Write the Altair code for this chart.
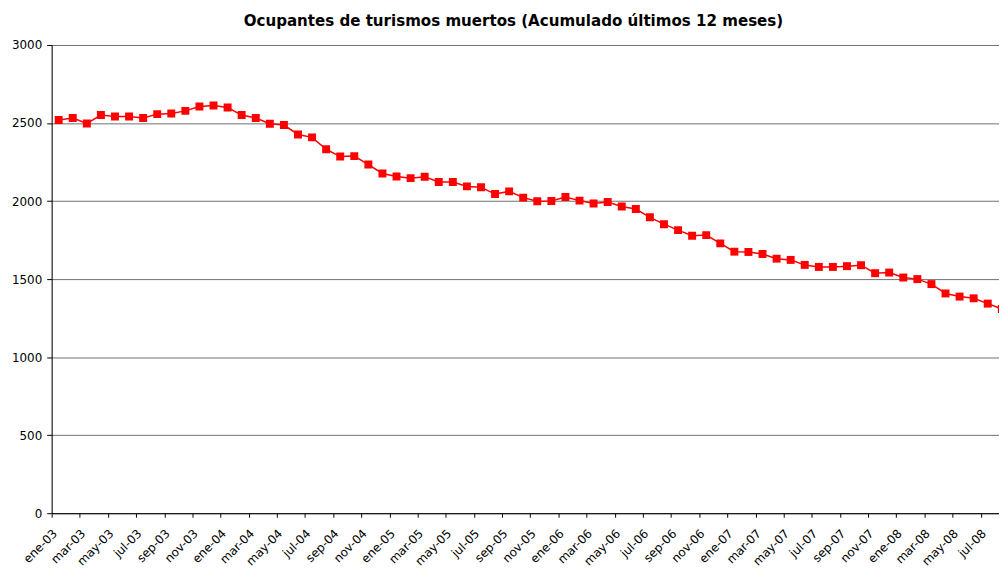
import json
import altair as alt
import pandas as pd

months = ["ene", "feb", "mar", "abr", "may", "jun", "jul", "ago", "sep", "oct", "nov", "dic"]
categories = [f"{m}-{y:02d}" for y in range(3, 9) for m in months][:68]

values = [
    2519, 2532, 2497, 2551, 2542, 2542, 2532, 2557, 2561, 2578, 2606, 2612,
    2599, 2551, 2532, 2496, 2487, 2427, 2408, 2332, 2285, 2288, 2234, 2177,
    2158, 2147, 2156, 2122, 2122, 2094, 2088, 2045, 2062, 2022, 1999, 2001,
    2026, 2003, 1984, 1994, 1965, 1949, 1896, 1852, 1814, 1778, 1782, 1729,
    1676, 1674, 1661, 1631, 1623, 1591, 1578, 1578, 1583, 1589, 1538, 1542,
    1510, 1500, 1468, 1408, 1388, 1377, 1343, 1309,
]

tick_labels = [
    "ene-03", "mar-03", "may-03", "jul-03", "sep-03", "nov-03",
    "ene-04", "mar-04", "may-04", "jul-04", "sep-04", "nov-04",
    "ene-05", "mar-05", "may-05", "jul-05", "sep-05", "nov-05",
    "ene-06", "mar-06", "may-06", "jul-06", "sep-06", "nov-06",
    "ene-07", "mar-07", "may-07", "jul-07", "sep-07", "nov-07",
    "ene-08", "mar-08", "may-08", "jul-08",
]

y_ticks = [0, 500, 1000, 1500, 2000, 2500, 3000]

df = pd.DataFrame({"mes": categories, "i": list(range(len(values))), "v": values})

FONT = "DejaVu Sans"

tick_positions = [-0.5 + 2 * k for k in range(len(tick_labels))]
label_expr = json.dumps(tick_labels) + "[round((datum.value + 0.5) / 2)]"

x = alt.X(
    "i:Q",
    scale=alt.Scale(domain=[-0.5, 66.8], nice=False, zero=False),
    axis=alt.Axis(
        values=tick_positions,
        labelExpr=label_expr,
        title=None,
        grid=False,
        labelAngle=-45,
        labelAlign="right",
        labelBaseline="middle",
        labelOffset=3,
        labelPadding=14,
        tickSize=4,
        labelOverlap=False,
        labelFlush=False,
        labelFont=FONT,
        labelFontSize=12,
        labelColor="black",
        domainColor="black",
        tickColor="black",
    ),
)

y = alt.Y(
    "v:Q",
    scale=alt.Scale(domain=[0, 3000], nice=False),
    axis=alt.Axis(
        values=y_ticks,
        format="d",
        title=None,
        grid=True,
        gridColor="#6f6f6f",
        gridWidth=1,
        tickSize=5,
        labelPadding=5,
        labelFont=FONT,
        labelFontSize=12,
        labelColor="black",
        domainColor="black",
        tickColor="black",
    ),
)

base = alt.Chart(df)
line = base.mark_line(color="#ff0000", strokeWidth=1.5, clip=True).encode(x=x, y=y)
pts = base.mark_point(shape="square", size=64, filled=True, color="#ff0000", opacity=1, clip=True).encode(x=x, y=y)

chart = (
    alt.layer(line, pts)
    .properties(
        width=955,
        height=472,
        autosize=alt.AutoSizeParams(type="none"),
        padding={"left": 44, "top": 35, "right": 0, "bottom": 62},
        title=alt.TitleParams(
            "Ocupantes de turismos muertos (Acumulado últimos 12 meses)",
            font=FONT,
            fontSize=15.2,
            fontWeight="bold",
            color="black",
            anchor="middle",
            dx=-12,
            dy=17,
            offset=15,
            baseline="alphabetic",
        ),
    )
    .configure_view(strokeWidth=0)
    .configure(background="white")
)

chart.save("out.html", embed_options={"renderer": "svg", "actions": False})
